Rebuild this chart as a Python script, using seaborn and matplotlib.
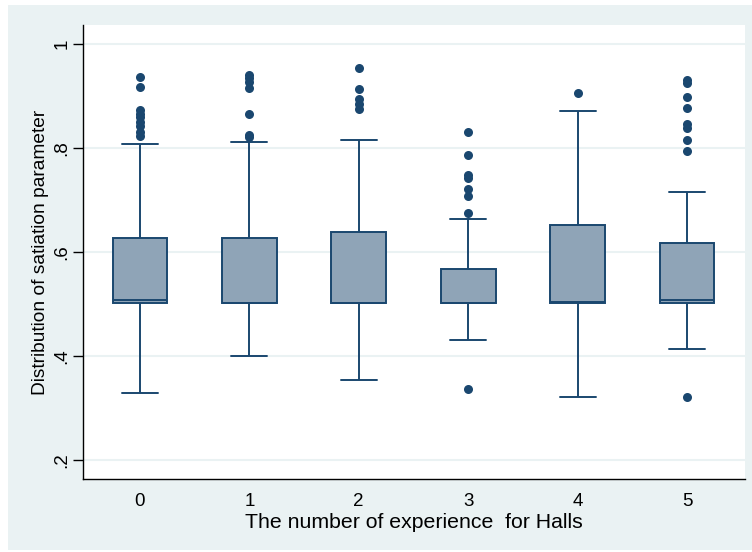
import numpy as np
import pandas as pd
import matplotlib
matplotlib.use("Agg")
import matplotlib.pyplot as plt
from matplotlib.patches import Rectangle
import seaborn as sns

# ---- data ----
groups = ["0", "1", "2", "3", "4", "5"]
lower_whisker = [0.329, 0.400, 0.354, 0.431, 0.321, 0.413]
q1 = [0.501, 0.501, 0.501, 0.501, 0.502, 0.502]
median = [0.507, 0.501, 0.501, 0.501, 0.503, 0.508]
q3 = [0.627, 0.627, 0.638, 0.567, 0.652, 0.617]
upper_whisker = [0.808, 0.812, 0.815, 0.663, 0.871, 0.715]
outliers = {
    "0": [0.937, 0.917, 0.873, 0.866, 0.860, 0.850, 0.842, 0.830, 0.823],
    "1": [0.940, 0.934, 0.927, 0.915, 0.865, 0.825, 0.821],
    "2": [0.954, 0.913, 0.894, 0.885, 0.875],
    "3": [0.831, 0.786, 0.748, 0.742, 0.721, 0.708, 0.675, 0.337],
    "4": [0.906],
    "5": [0.931, 0.925, 0.898, 0.877, 0.846, 0.838, 0.815, 0.794, 0.321],
}
ytick_values = [0.2, 0.4, 0.6, 0.8, 1.0]
ytick_labels = [".2", ".4", ".6", ".8", "1"]
x_label = "The number of experience  for Halls"
y_label = "Distribution of satiation parameter"

# five-number summaries as long-form table (box spans exactly these stats)
box_rows = []
for i, g in enumerate(groups):
    for v in (lower_whisker[i], q1[i], median[i], q3[i], upper_whisker[i]):
        box_rows.append({"group": g, "value": v})
box_df = pd.DataFrame(box_rows)
out_df = pd.DataFrame([{"group": g, "value": v} for g in groups for v in outliers[g]])

navy = "#1a476f"
fill = "#8fa4b7"
bg = "#eaf2f3"

sns.set_theme(style="white")
plt.rcParams["font.family"] = ["Liberation Sans", "DejaVu Sans"]

fig = plt.figure(figsize=(7.52, 5.52), dpi=100)
fig.patch.set_facecolor("white")
fig.add_artist(Rectangle((8 / 752, 2 / 552), 744 / 752, 545 / 552,
                         transform=fig.transFigure, facecolor=bg,
                         edgecolor="none", zorder=-10))
ax = fig.add_axes([83 / 752, 1 - 479 / 552, (745 - 83) / 752, (479 - 25) / 552])
ax.set_facecolor("white")

sns.boxplot(data=box_df, x="group", y="value", order=groups, whis=(0, 100),
            width=0.5, color=fill, linecolor=navy, linewidth=1.4,
            saturation=1, ax=ax, capwidths=0.33, zorder=3)
sns.stripplot(data=out_df, x="group", y="value", order=groups, jitter=False,
              color=navy, size=6.5, linewidth=0, ax=ax, zorder=4)

ax.set_xlim(-0.52, 5.53)
ax.set_ylim(0.1635, 1.0365)
ax.set_yticks(ytick_values)
ax.set_yticklabels(ytick_labels, rotation=90, va="center", fontsize=13.5)
ax.tick_params(axis="y", length=7.2, width=1, color="black", pad=2, left=True)
ax.tick_params(axis="x", length=0, pad=10, labelsize=13.5)
for t in ax.get_xticklabels():
    t.set_color("black")
for t in ax.get_yticklabels():
    t.set_color("black")

ax.yaxis.grid(True, color=bg, linewidth=1.5, zorder=0)
ax.set_axisbelow(True)
for s in ["top", "right"]:
    ax.spines[s].set_visible(False)
for s in ["left", "bottom"]:
    ax.spines[s].set_color("black")
    ax.spines[s].set_linewidth(1)

ax.set_xlabel(x_label, fontsize=15.3, color="black", labelpad=2)
ax.set_ylabel(y_label, fontsize=13.8, color="black", labelpad=3)

fig.savefig("out.png", dpi=100, facecolor=fig.get_facecolor())
